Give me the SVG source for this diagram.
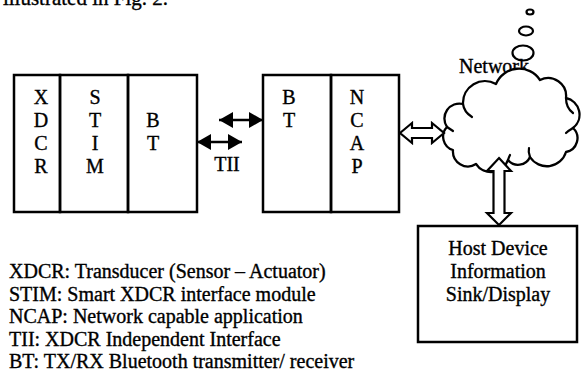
<svg xmlns="http://www.w3.org/2000/svg" width="584" height="377" viewBox="0 0 584 377">
  <style>
    .box { fill: none; stroke: #000; stroke-width: 2.5; }
    .txt { font-family: "Liberation Serif", "Times New Roman", serif; font-size: 20px; fill: #000; stroke: #000; stroke-width: 0.35; }
    .mid { text-anchor: middle; }
    .line { stroke: #000; stroke-width: 2.5; fill: none; }
    .hollow { fill: #fff; stroke: #000; stroke-width: 2.2; stroke-linejoin: miter; }
    .cloud { fill: #fff; stroke: #000; stroke-width: 2.3; stroke-linejoin: round; }
    .hook { fill: none; stroke: #000; stroke-width: 2.2; stroke-linecap: round; }
    .bubble { fill: none; stroke: #000; stroke-width: 2.2; }
  </style>
  <defs>
    <marker id="head" viewBox="0 0 14 16" refX="14" refY="8" markerWidth="14" markerHeight="16" markerUnits="userSpaceOnUse" orient="auto-start-reverse">
      <path d="M0,0 L14,8 L0,16 z" fill="#000"/>
    </marker>
  </defs>

  <rect width="584" height="377" fill="#fff"/>

  <!-- running text above the figure -->
  <text class="txt" x="168" y="5" text-anchor="end" style="font-size:21px">illustrated in Fig. 2.</text>

  <!-- sensor side: XDCR | STIM | BT -->
  <g id="xdcr">
    <rect class="box" x="14" y="75" width="46" height="137"/>
    <text class="txt mid" x="41" y="104">X</text>
    <text class="txt mid" x="41" y="127">D</text>
    <text class="txt mid" x="41" y="150">C</text>
    <text class="txt mid" x="41" y="173">R</text>
  </g>
  <g id="stim">
    <rect class="box" x="60" y="75" width="68" height="137"/>
    <text class="txt mid" x="95" y="104">S</text>
    <text class="txt mid" x="95" y="127">T</text>
    <text class="txt mid" x="95" y="150">I</text>
    <text class="txt mid" x="95" y="173">M</text>
  </g>
  <g id="bt-stim">
    <rect class="box" x="128" y="75" width="69" height="137"/>
    <text class="txt mid" x="153" y="127">B</text>
    <text class="txt mid" x="153" y="150">T</text>
  </g>

  <!-- network side: BT | NCAP -->
  <g id="bt-ncap">
    <rect class="box" x="263" y="75" width="68" height="137"/>
    <text class="txt mid" x="289" y="104">B</text>
    <text class="txt mid" x="289" y="127">T</text>
  </g>
  <g id="ncap">
    <rect class="box" x="331" y="75" width="68" height="137"/>
    <text class="txt mid" x="357" y="104">N</text>
    <text class="txt mid" x="357" y="127">C</text>
    <text class="txt mid" x="357" y="150">A</text>
    <text class="txt mid" x="357" y="173">P</text>
  </g>

  <!-- network cloud with thought bubbles -->
  <g id="network">
    <ellipse cx="530" cy="12" rx="3.5" ry="2.5" class="bubble"/>
    <ellipse cx="526" cy="31" rx="7" ry="4.5" class="bubble"/>
    <text class="txt" x="459" y="73">Network</text>
    <ellipse cx="523" cy="53" rx="10.5" ry="7.5" class="bubble"/>
    <path class="cloud" d="M463,104
      A22,22 0 0 1 496,84
      A25,25 0 0 1 540,80
      A18,18 0 0 1 566,98
      A17,17 0 0 1 573,128
      A14,14 0 0 1 566,152
      A20,20 0 0 1 530,157
      A13,13 0 0 1 508,160
      A18,18 0 0 1 476,164
      A15,15 0 0 1 453,150
      A14,14 0 0 1 447,127
      A15,15 0 0 1 463,104 Z"/>
    <path class="hook" d="M463,104 Q464,112 472,117"/>
    <path class="hook" d="M447,127 Q450,129 453,131"/>
    <path class="hook" d="M566,98 Q566,108 573,113"/>
    <path class="hook" d="M573,128 Q568,131 566,133"/>
    <path class="hook" d="M530,157 Q528,152 529,148"/>
    <path class="hook" d="M508,160 Q509,157 510,155"/>
  </g>

  <!-- host device -->
  <g id="host">
    <rect class="box" x="418" y="226" width="159" height="116"/>
    <text class="txt mid" x="498" y="255">Host Device</text>
    <text class="txt mid" x="498" y="278">Information</text>
    <text class="txt mid" x="498" y="301">Sink/Display</text>
  </g>

  <!-- connectors -->
  <g id="connectors">
    <line class="line" x1="219" y1="120" x2="263" y2="120" marker-start="url(#head)" marker-end="url(#head)"/>
    <line class="line" x1="197" y1="142" x2="242" y2="142" marker-start="url(#head)" marker-end="url(#head)"/>
    <text class="txt mid" x="227" y="171">TII</text>
    <polygon class="hollow" points="400,133 412,123 412,128 432,128 432,123 444,133 432,143 432,138 412,138 412,143"/>
    <polygon class="hollow" points="499,158 511,171 504.5,171 504.5,213 511,213 499,225 487,213 493.5,213 493.5,171 487,171"/>
  </g>

  <!-- legend -->
  <g id="legend">
    <text class="txt" x="9" y="278">XDCR: Transducer (Sensor – Actuator)</text>
    <text class="txt" x="9" y="301">STIM: Smart XDCR interface module</text>
    <text class="txt" x="9" y="323">NCAP: Network capable application</text>
    <text class="txt" x="9" y="346">TII: XDCR Independent Interface</text>
    <text class="txt" x="9" y="368">BT: TX/RX Bluetooth transmitter/ receiver</text>
  </g>
</svg>
